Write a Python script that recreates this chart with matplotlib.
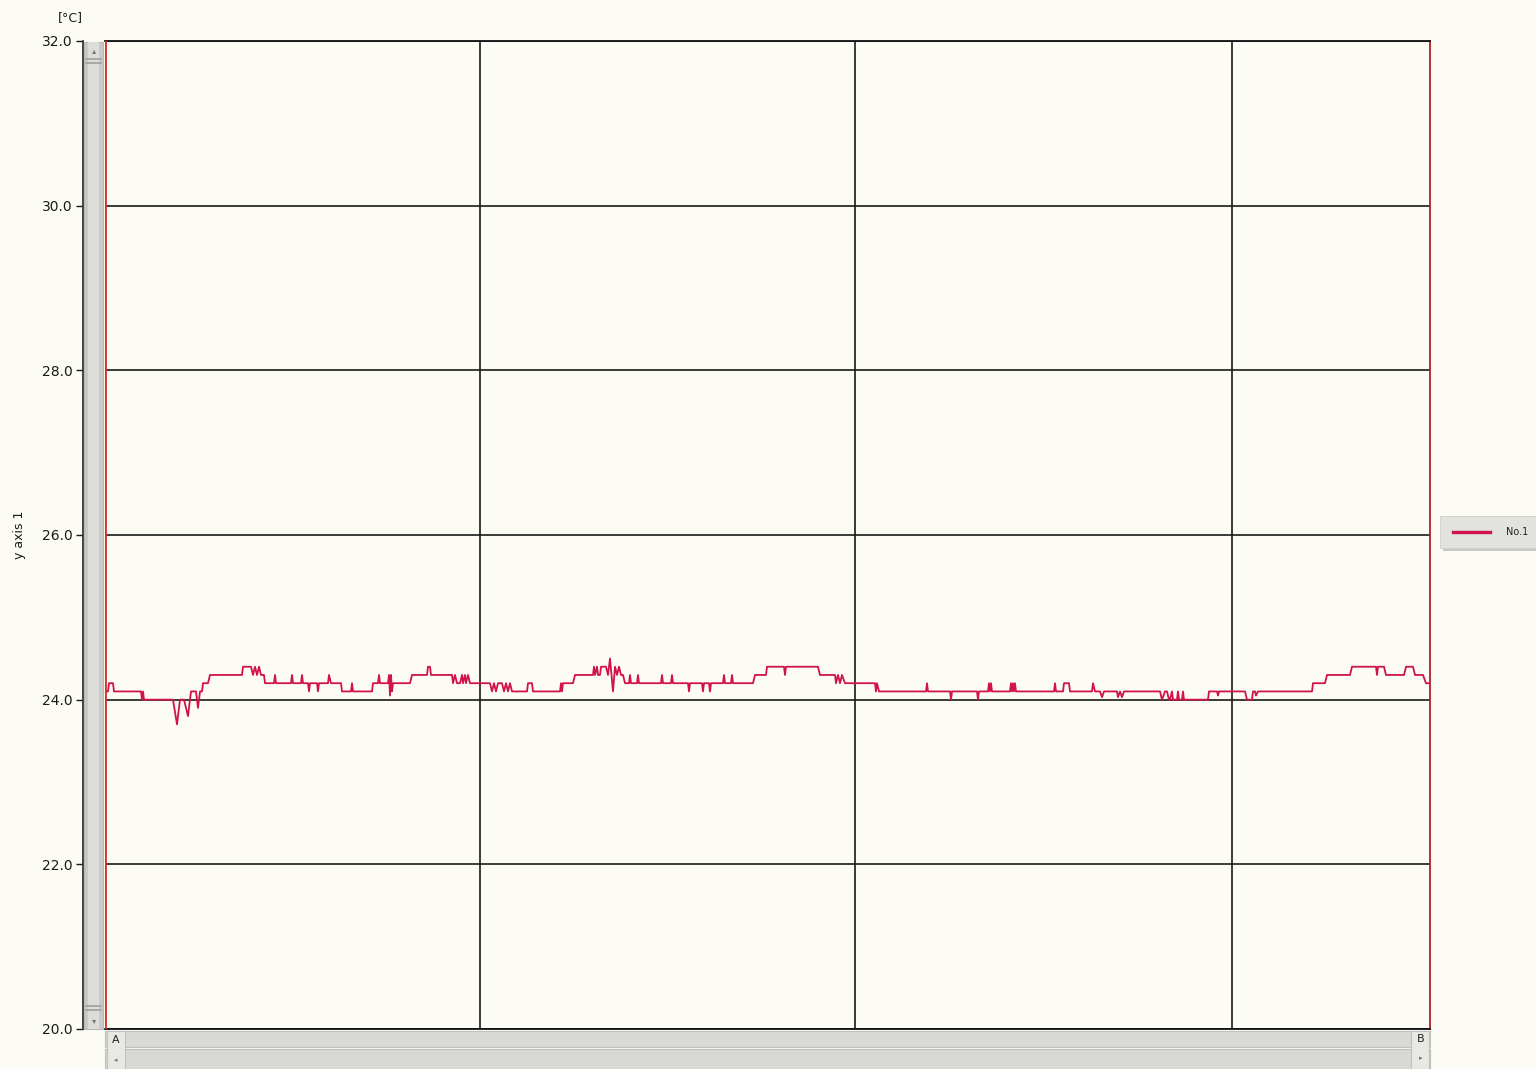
import matplotlib
matplotlib.use("Agg")
import matplotlib.pyplot as plt
from matplotlib.patches import Rectangle
from matplotlib.lines import Line2D

trace_part1 = [(0, 24.1), (3, 24.1), (4, 24.2), (8, 24.2), (9, 24.1), (36, 24.1), (37, 24.0),
               (38, 24.1), (39, 24.0), (68, 24.0), (72, 23.7), (75, 24.0), (79, 24.0), (83, 23.8),
               (86, 24.1), (91, 24.1), (93, 23.9), (95, 24.1), (97, 24.1), (98, 24.2), (103, 24.2),
               (105, 24.3), (137, 24.3), (138, 24.4), (146, 24.4), (148, 24.3), (150, 24.4),
               (152, 24.3), (154, 24.4), (156, 24.3), (159, 24.3), (160, 24.2), (169, 24.2),
               (170, 24.3), (171, 24.2), (186, 24.2), (187, 24.3), (188, 24.2), (196, 24.2),
               (197, 24.3), (198, 24.2), (203, 24.2), (204, 24.1), (205, 24.2), (212, 24.2),
               (213, 24.1), (214, 24.2), (223, 24.2), (224, 24.3), (226, 24.2), (236, 24.2),
               (237, 24.1), (246, 24.1), (247, 24.2), (248, 24.1), (267, 24.1), (268, 24.2),
               (273, 24.2), (274, 24.3), (275, 24.2), (283, 24.2), (284, 24.3), (285, 24.05),
               (286, 24.3), (287, 24.1), (288, 24.2), (305, 24.2), (307, 24.3), (322, 24.3),
               (323, 24.4), (325, 24.4), (326, 24.3), (347, 24.3), (348, 24.2), (350, 24.3),
               (352, 24.2), (355, 24.2), (357, 24.3), (358, 24.2), (360, 24.3), (361, 24.2),
               (363, 24.3), (365, 24.2), (375, 24.2)]
trace_part2 = [(385, 24.2), (387, 24.1), (389, 24.2), (391, 24.1), (393, 24.2), (397, 24.2),
               (399, 24.1), (401, 24.2), (403, 24.1), (405, 24.2), (407, 24.1), (422, 24.1),
               (423, 24.2), (427, 24.2), (428, 24.1), (455, 24.1), (456, 24.2), (457, 24.1),
               (458, 24.2), (468, 24.2), (470, 24.3), (488, 24.3), (489, 24.4), (490, 24.3),
               (492, 24.4), (493, 24.3), (495, 24.3), (496, 24.4), (501, 24.4), (503, 24.3),
               (505, 24.5), (508, 24.1), (510, 24.4), (512, 24.3), (514, 24.4), (516, 24.3),
               (518, 24.3), (520, 24.2), (524, 24.2), (525, 24.3), (526, 24.2), (532, 24.2),
               (533, 24.3), (534, 24.2), (556, 24.2), (557, 24.3), (558, 24.2), (566, 24.2),
               (567, 24.3), (568, 24.2), (583, 24.2), (584, 24.1), (585, 24.2), (597, 24.2),
               (598, 24.1), (599, 24.2), (604, 24.2), (605, 24.1), (606, 24.2), (618, 24.2),
               (619, 24.3), (620, 24.2), (626, 24.2), (627, 24.3), (628, 24.2), (648, 24.2),
               (650, 24.3), (661, 24.3), (662, 24.4), (679, 24.4), (680, 24.3), (681, 24.4),
               (713, 24.4), (715, 24.3), (730, 24.3), (731, 24.2), (733, 24.3), (735, 24.2),
               (737, 24.3), (740, 24.2), (770, 24.2)]
trace_part3 = [(771, 24.1), (772, 24.2), (774, 24.1), (821, 24.1), (822, 24.2), (823, 24.1),
               (845, 24.1), (846, 24.0), (847, 24.1), (872, 24.1), (873, 24.0), (874, 24.1),
               (883, 24.1), (884, 24.2), (885, 24.1), (886, 24.2), (887, 24.1), (905, 24.1),
               (906, 24.2), (907, 24.1), (908, 24.2), (909, 24.1), (910, 24.2), (911, 24.1),
               (949, 24.1), (950, 24.2), (951, 24.1), (958, 24.1), (959, 24.2), (964, 24.2),
               (965, 24.1), (987, 24.1), (988, 24.2), (990, 24.1), (995, 24.1), (997, 24.03),
               (999, 24.1), (1012, 24.1), (1013, 24.03), (1015, 24.1), (1017, 24.03), (1019, 24.1),
               (1055, 24.1), (1057, 24.0), (1060, 24.1), (1062, 24.1), (1064, 24.0), (1065, 24.0),
               (1067, 24.1), (1068, 24.0), (1072, 24.0), (1073, 24.1), (1074, 24.0), (1077, 24.0),
               (1078, 24.1), (1079, 24.0), (1103, 24.0), (1104, 24.1), (1112, 24.1), (1113, 24.05),
               (1114, 24.1), (1140, 24.1), (1142, 24.0), (1147, 24.0), (1148, 24.1), (1150, 24.1),
               (1151, 24.05), (1153, 24.1), (1207, 24.1), (1208, 24.2), (1220, 24.2), (1222, 24.3),
               (1245, 24.3), (1247, 24.4), (1271, 24.4), (1272, 24.3), (1273, 24.4), (1279, 24.4),
               (1281, 24.3), (1299, 24.3), (1301, 24.4), (1308, 24.4), (1310, 24.3), (1318, 24.3),
               (1321, 24.2), (1325, 24.2)]

y_ticks = [20.0, 22.0, 24.0, 26.0, 28.0, 30.0, 32.0]
x_grid = [0, 375, 750, 1127]
t_end = 1325

trace = trace_part1 + trace_part2 + trace_part3
time_s = [p[0] for p in trace]
temp_c = [p[1] for p in trace]

W, H = 1536, 1069
BG = '#fcfcf5'
LINE = '#d0124e'


def fx(x):
    return x / W


def fy(y):
    return 1 - y / H


fig = plt.figure(figsize=(W / 100, H / 100), dpi=100, facecolor=BG)
ax = fig.add_axes([fx(105), fy(1029), fx(1430) - fx(105), (1029 - 41) / H])
ax.set_facecolor(BG)

ax.plot(time_s, temp_c, color=LINE, linewidth=1.3, zorder=3)

ax.set_xlim(0, t_end)
ax.set_ylim(20, 32)
ax.set_yticks(y_ticks)
ax.set_yticklabels(['%.1f' % v for v in y_ticks], fontsize=9, color='#1a1a1a')
ax.set_xticks(x_grid)
ax.tick_params(axis='x', length=0, labelbottom=False)
ax.tick_params(axis='y', direction='out', length=5, width=1, pad=2.5, colors='#1a1a1a')
ax.grid(color='#1a1a1a', linewidth=1.2, linestyle='-')
ax.set_axisbelow(True)

ax.spines['left'].set_position(('outward', 15.5))
ax.spines['left'].set_color('#333333')
ax.spines['top'].set_color('#111111')
ax.spines['bottom'].set_color('#111111')
ax.spines['right'].set_color('#b02020')
for s in ax.spines.values():
    s.set_linewidth(1.3)
ax.axvline(0, color='#d83030', linewidth=2.0, zorder=4)

# left scroll bar
fig.patches.append(Rectangle((fx(84), fy(1029)), fx(103) - fx(84), (1029 - 42) / H,
                             transform=fig.transFigure, facecolor='#c9c9c6', edgecolor='#b8b8b4',
                             linewidth=0.8, zorder=0))
fig.patches.append(Rectangle((fx(88), fy(1029)), fx(99) - fx(88), (1029 - 42) / H,
                             transform=fig.transFigure, facecolor='#dcdcd9', edgecolor='none', zorder=0))
for yy in (59, 63, 1006, 1010):
    fig.lines.append(Line2D([fx(86), fx(101)], [fy(yy), fy(yy)], transform=fig.transFigure,
                            color='#a0a09c', linewidth=1.2))
fig.text(fx(94), fy(51), '▴', fontsize=6, color='#777777', ha='center', va='center')
fig.text(fx(94), fy(1021), '▾', fontsize=6, color='#777777', ha='center', va='center')

# bottom scroll bar
for y0, y1 in ((1031, 1047), (1049, 1069)):
    fig.patches.append(Rectangle((fx(105), fy(y1)), fx(1430) - fx(105), (y1 - y0) / H,
                                 transform=fig.transFigure, facecolor='#d8d8d4', edgecolor='#c0c0bc',
                                 linewidth=0.8, zorder=0))
for x0 in (107, 1411):
    fig.patches.append(Rectangle((fx(x0), fy(1069)), fx(18), 38 / H,
                                 transform=fig.transFigure, facecolor='#e8e8e4', edgecolor='#c0c0bc',
                                 linewidth=0.8, zorder=0))
fig.text(fx(116), fy(1040), 'A', fontsize=8, color='#222222', ha='center', va='center')
fig.text(fx(1421), fy(1039), 'B', fontsize=8, color='#222222', ha='center', va='center')
fig.text(fx(116), fy(1060), '◂', fontsize=5, color='#777777', ha='center', va='center')
fig.text(fx(1421), fy(1058), '▸', fontsize=5, color='#777777', ha='center', va='center')

# axis texts
fig.text(fx(70), fy(18), '[°C]', fontsize=9, color='#1a1a1a', ha='center', va='center')
fig.text(fx(20), fy(535), 'y axis 1', fontsize=9, color='#1a1a1a', ha='center', va='center',
         rotation=90)

# legend box
fig.patches.append(Rectangle((fx(1443), fy(551)), fx(W - 1443), 33 / H, transform=fig.transFigure,
                             facecolor='#c8c8c4', edgecolor='none', zorder=0))
fig.patches.append(Rectangle((fx(1440), fy(548)), fx(W - 1440), 32 / H, transform=fig.transFigure,
                             facecolor='#e2e2de', edgecolor='#d0d0cc', linewidth=0.6, zorder=0))
fig.lines.append(Line2D([fx(1453), fx(1490)], [fy(532), fy(532)], transform=fig.transFigure,
                        color=LINE, linewidth=2.4))
fig.text(fx(1506), fy(532), 'No.1', fontsize=7, color='#222222', ha='left', va='center')

fig.savefig('out.png', dpi=100, facecolor=BG)
